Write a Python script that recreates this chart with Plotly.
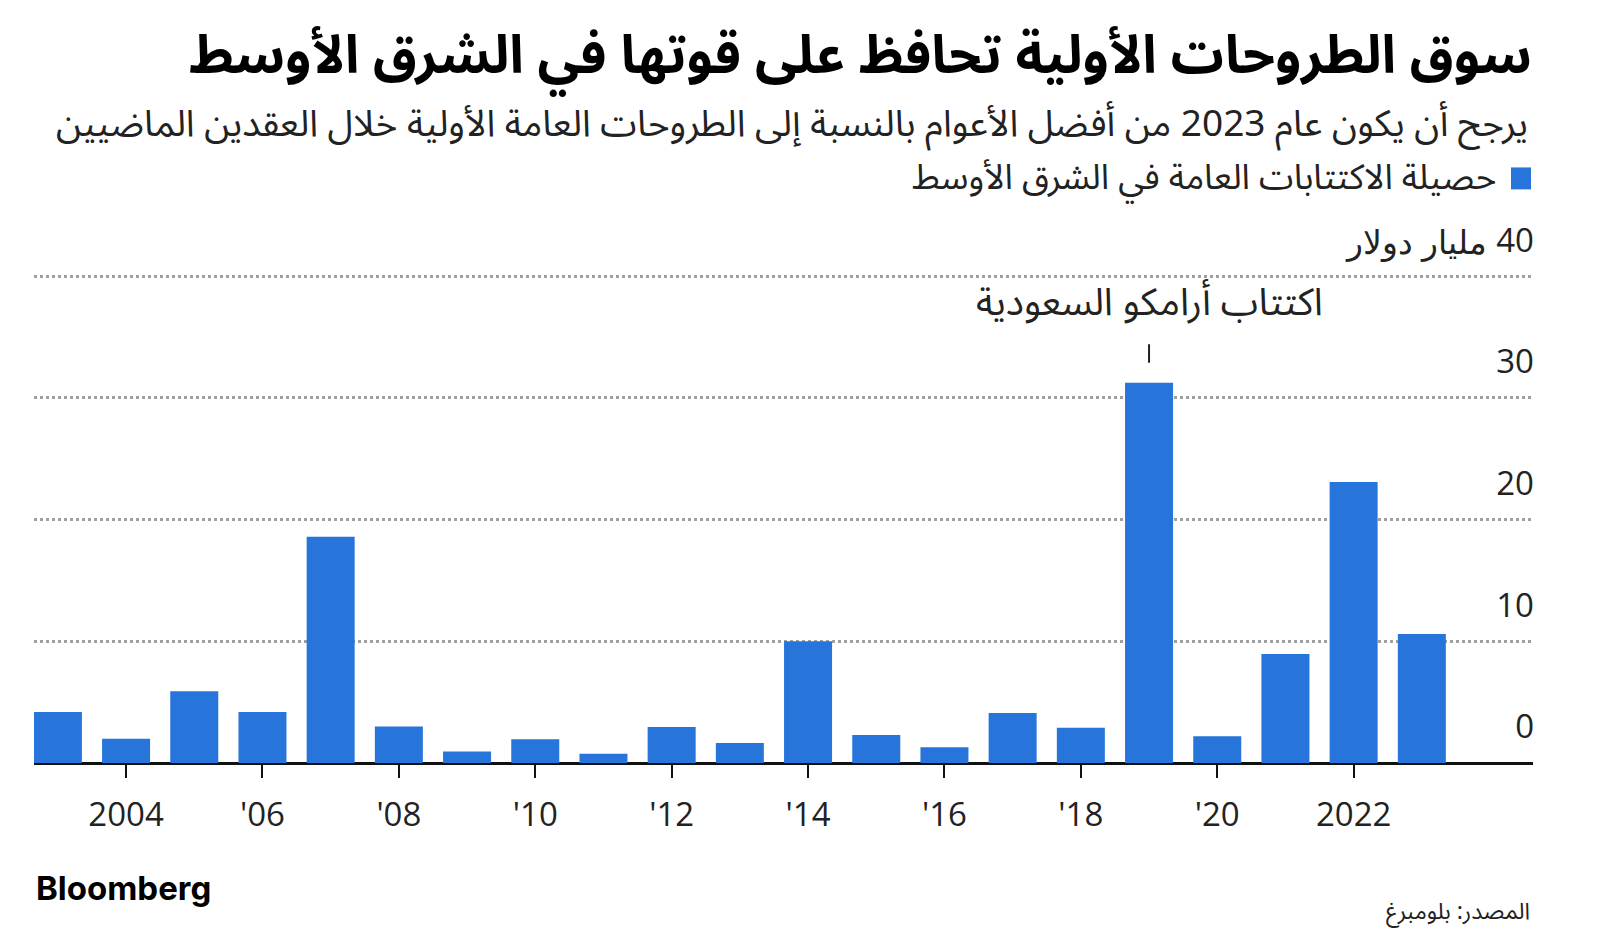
import plotly.graph_objects as go

# ---- data ----
years = [2003, 2004, 2005, 2006, 2007, 2008, 2009, 2010, 2011, 2012, 2013,
         2014, 2015, 2016, 2017, 2018, 2019, 2020, 2021, 2022, 2023]
ipo_proceeds = [4.2, 2.0, 5.9, 4.2, 18.6, 3.0, 0.95, 1.95, 0.75, 2.95, 1.65,
                10.0, 2.3, 1.3, 4.1, 2.9, 31.25, 2.2, 8.95, 23.1, 10.6]
series_name = "حصيلة الاكتتابات العامة في الشرق الأوسط"
x_tickvals = [2004, 2006, 2008, 2010, 2012, 2014, 2016, 2018, 2020, 2022]
x_ticktext = ["2004", "'06", "'08", "'10", "'12", "'14", "'16", "'18", "'20", "2022"]
y_tickvals = [0, 10, 20, 30, 40]
y_ticktext = ["0", "10", "20", "30", "40"]
y_unit_text = "مليار دولار"
title_text = "سوق الطروحات الأولية تحافظ على قوتها في الشرق الأوسط"
subtitle_text = "يرجح أن يكون عام 2023 من أفضل الأعوام بالنسبة إلى الطروحات العامة الأولية خلال العقدين الماضيين"
callout_year = 2019
callout_text = "اكتتاب أرامكو السعودية"
source_text = "المصدر: بلومبرغ"
brand_text = "Bloomberg"

# ---- layout geometry (page pixels; the page body has an 8px margin) ----
OFF = 8
W, H = 1600 - 2 * OFF, 944 - 2 * OFF
Y_MAX = 47.5
PLOT_LEFT, PLOT_RIGHT = 34, 1533          # page x
ZERO_Y, GRID40_Y = 763.5, 276             # page y
unit = (ZERO_Y - GRID40_Y) / 40.0
PLOT_TOP = GRID40_Y - (Y_MAX - 40) * unit
L = PLOT_LEFT - OFF
R = W - (PLOT_RIGHT - OFF)
T = PLOT_TOP - OFF
B = H - (ZERO_Y - OFF)
PW, PH = W - L - R, H - T - B

def px_x(x):
    return (x - OFF - L) / PW

def px_y(y):
    return (H - B - (y - OFF)) / PH

BLUE = "#2775DB"
ARABIC = "Noto Sans Arabic, DejaVu Sans, sans-serif"
NUM = "Open Sans, sans-serif"
LABEL_LIFT = 35   # y tick labels sit this many px above their grid line

fig = go.Figure()
fig.add_trace(go.Bar(x=years, y=ipo_proceeds, name=series_name,
                     marker=dict(color=BLUE, line=dict(width=0)),
                     showlegend=False))

fig.update_layout(
    width=W, height=H,
    margin=dict(l=L, r=R, t=T, b=B, pad=0),
    paper_bgcolor="white", plot_bgcolor="rgba(0,0,0,0)",
    bargap=0.296,
    font=dict(family=NUM, color="#222"),
)

fig.update_xaxes(
    range=[2002.65, 2024.63],
    tickvals=x_tickvals, ticktext=x_ticktext,
    ticks="outside", ticklen=14, tickwidth=2, tickcolor="#111",
    showgrid=False, showline=False, zeroline=False,
    tickfont=dict(family=NUM, size=33, color="#222"),
    ticklabelstandoff=8,
    fixedrange=True,
)

fig.update_yaxes(
    range=[0, Y_MAX],
    side="right",
    tickvals=y_tickvals, ticktext=y_ticktext,
    ticklabelposition="inside top",
    ticklabelshift=-13,
    ticklabelstandoff=-4,
    ticks="",
    showgrid=True, gridcolor="#a0a0a0", gridwidth=2.5, griddash="dot",
    zeroline=True, zerolinecolor="#111", zerolinewidth=3,
    showline=False,
    tickfont=dict(family=NUM, size=33, color="#222"),
    fixedrange=True,
)

ci = years.index(callout_year)
annotations = [
    dict(text=title_text, x=px_x(1534), y=px_y(55), xref="paper", yref="paper",
         xanchor="right", yanchor="middle", showarrow=False,
         font=dict(family=ARABIC, size=53, color="#000", weight=700)),
    dict(text=subtitle_text, x=px_x(1530), y=px_y(123), xref="paper", yref="paper",
         xanchor="right", yanchor="middle", showarrow=False,
         font=dict(family=ARABIC, size=37, color="#222")),
    dict(text=series_name, x=px_x(1498), y=px_y(178), xref="paper", yref="paper",
         xanchor="right", yanchor="middle", showarrow=False,
         font=dict(family=ARABIC, size=35, color="#222")),
    dict(text=y_unit_text, x=px_x(1489), y=y_tickvals[-1], xref="paper", yref="y",
         xanchor="right", yanchor="middle", yshift=LABEL_LIFT, showarrow=False,
         font=dict(family=NUM, size=33, color="#222")),
    dict(text=brand_text, x=px_x(34), y=px_y(889), xref="paper", yref="paper",
         xanchor="left", yanchor="middle", showarrow=False,
         font=dict(family="Inter, sans-serif", size=33, color="#000", weight=700)),
    dict(text=source_text, x=px_x(1532), y=px_y(912), xref="paper", yref="paper",
         xanchor="right", yanchor="middle", showarrow=False,
         font=dict(family=ARABIC, size=23, color="#222")),
    dict(text=callout_text, x=years[ci], y=ipo_proceeds[ci], xref="x", yref="y",
         xanchor="center", yanchor="middle", yshift=80, showarrow=False,
         font=dict(family=ARABIC, size=38, color="#222")),
    dict(text="", x=years[ci], y=ipo_proceeds[ci], xref="x", yref="y",
         showarrow=True, arrowhead=0, arrowwidth=2, arrowcolor="#222",
         ax=0, ay=-40, standoff=20, font=dict(size=1)),
]
fig.update_layout(annotations=annotations)

fig.add_shape(type="rect", xref="paper", yref="paper",
              x0=px_x(1511), x1=px_x(1531), y0=px_y(189), y1=px_y(167),
              fillcolor=BLUE, line=dict(width=0))

fig.write_html("out.html")
